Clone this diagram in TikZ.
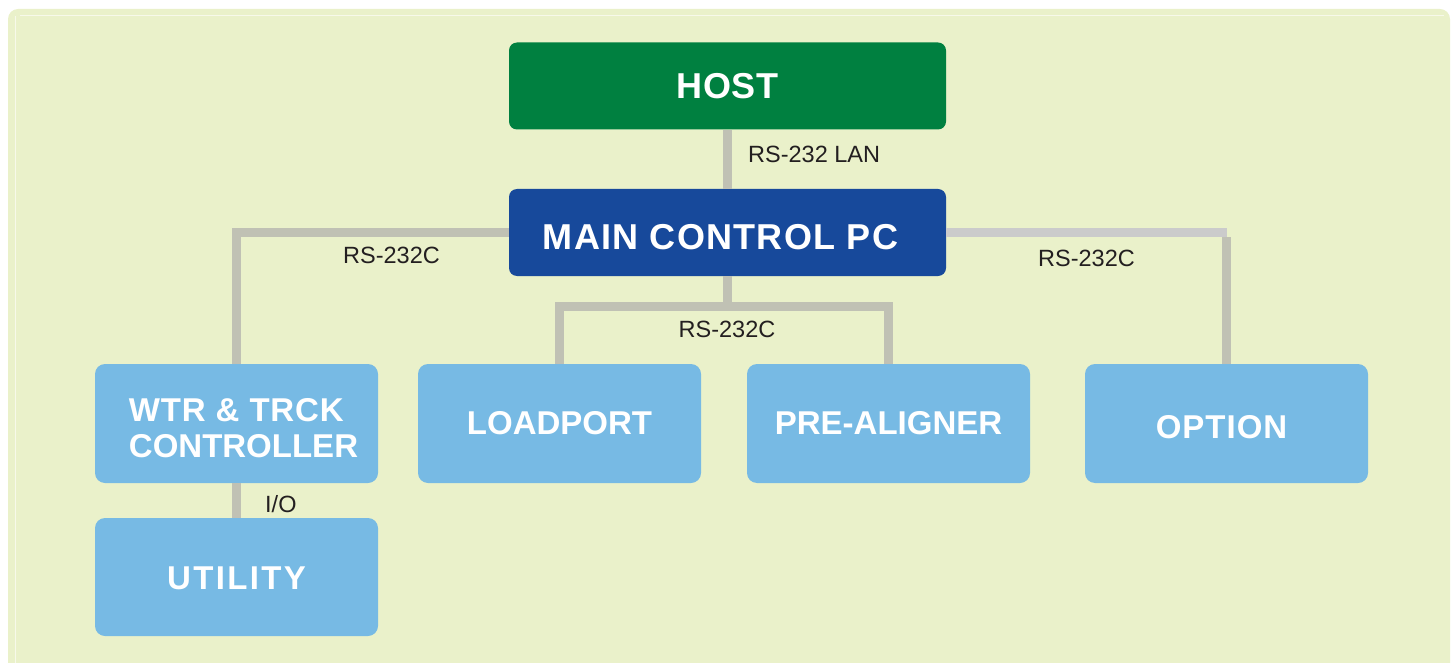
\documentclass[tikz,border=0pt]{standalone}
\usepackage{fontspec}
\setmainfont{Liberation Sans}
\definecolor{bggreen}{RGB}{234,241,202}
\definecolor{hostgreen}{RGB}{0,128,64}
\definecolor{mainblue}{RGB}{23,73,155}
\definecolor{boxblue}{RGB}{119,186,228}
\definecolor{conngray}{RGB}{192,193,180}
\definecolor{connlight}{RGB}{203,203,203}
\definecolor{txtdark}{RGB}{35,31,32}
\begin{document}
\begin{tikzpicture}[x=1pt,y=-1pt,
  topbox/.style={draw=none,rounded corners=8pt,inner sep=0pt,minimum width=437pt,minimum height=87pt,text=white,font=\fontsize{36}{40}\selectfont\bfseries},
  unitbox/.style={draw=none,fill=boxblue,rounded corners=10pt,inner sep=0pt,minimum width=283pt,minimum height=119pt,text=white,align=center,font=\fontsize{33}{36}\selectfont\bfseries},
  conn/.style={draw=conngray,line width=9pt,line join=miter},
  connl/.style={draw=connlight,line width=9pt,line join=miter},
  lbl/.style={inner sep=0pt,text=txtdark,font=\fontsize{23.5}{26}\selectfont}]
\useasboundingbox (0,0) rectangle (1453,663);
\fill[bggreen,rounded corners=10pt] (8,9) rectangle (1450,680);
\draw[white!60!bggreen,line width=1pt,rounded corners=6pt] (15,16) -- (15,663);
\draw[white!60!bggreen,line width=1pt] (20,16) -- (1444,16);

\node[topbox,fill=hostgreen] (host) at (727.5,86) {\addfontfeatures{LetterSpace=1}HOST};
\node[topbox,fill=mainblue,minimum height=87pt] (main) at (727.5,232.5) {\hspace*{-14pt}\raisebox{0pt}[34.8pt][0pt]{\addfontfeatures{LetterSpace=3.5}MAIN CONTROL PC}};

\node[unitbox] (wtr) at (236.5,423.5) {\hspace*{14pt}\raisebox{0pt}[68.6pt][0pt]{\vbox{\baselineskip=36pt\hbox{\addfontfeatures{LetterSpace=2.5}WTR \& TRCK}\hbox{CONTROLLER}}}};
\node[unitbox] (load) at (559.5,423.5) {LOADPORT};
\node[unitbox] (pre) at (888.5,423.5) {PRE-ALIGNER};
\node[unitbox] (opt) at (1226.5,423.5) {\hspace*{-10pt}\raisebox{0pt}[30.6pt][0pt]{\addfontfeatures{LetterSpace=3}OPTION}};
\node[unitbox,minimum height=118pt] (util) at (236.5,577) {\raisebox{0pt}[25.6pt][0pt]{\addfontfeatures{LetterSpace=7}UTILITY}};

\coordinate (mid) at (727.5,306);
\coordinate (rcorner) at (1226.5,232.5);
\draw[conn] (host.south) -- (main.north);
\draw[conn] (main.west) -| (wtr.north);
\draw[connl] (main.east) -- (rcorner);
\draw[conn] ([yshift=-4.5pt]rcorner) -- (opt.north);
\draw[conn] (main.south) -- (mid);
\draw[conn] (mid) -| (load.north);
\draw[conn] (mid) -| (pre.north);
\draw[conn] (wtr.south) -- (util.north);

\node[lbl,anchor=base west] (lan) at (748,163) {RS-232 LAN};
\node[lbl,anchor=base west] (lleft) at (343,263) {RS-232C};
\node[lbl,anchor=base west] (lright) at (1038,266) {RS-232C};
\node[lbl,anchor=base] (lmid) at (727,337) {RS-232C};
\node[lbl,anchor=base west] (lio) at (265,512) {I/O};
\end{tikzpicture}
\end{document}
